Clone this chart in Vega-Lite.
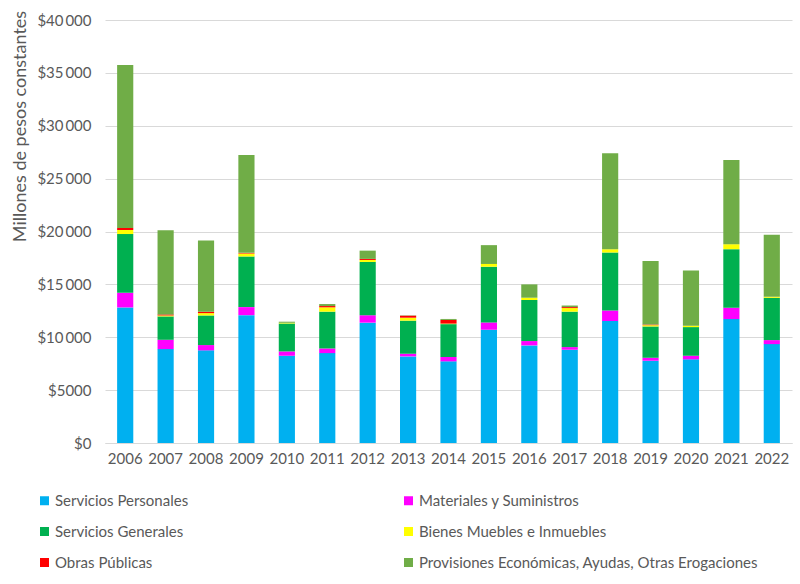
{
  "$schema": "https://vega.github.io/schema/vega-lite/v6.json",
  "width": 687,
  "height": 423,
  "autosize": {"type": "none"},
  "padding": {"left": 105, "top": 20, "right": 8, "bottom": 141},
  "background": "white",
  "config": {
    "font": "Lato",
    "view": {"stroke": null},
    "axis": {"labelColor": "#595959", "titleColor": "#595959", "labelFont": "Lato", "titleFont": "Lato"}
  },
  "data": {"values": [
    {"year":"2006","cat":"Servicios Personales","value":12820},
    {"year":"2006","cat":"Materiales y Suministros","value":1380},
    {"year":"2006","cat":"Servicios Generales","value":5560},
    {"year":"2006","cat":"Bienes Muebles e Inmuebles","value":380},
    {"year":"2006","cat":"Obras Públicas","value":190},
    {"year":"2006","cat":"Provisiones Económicas, Ayudas, Otras Erogaciones","value":15420},
    {"year":"2007","cat":"Servicios Personales","value":8880},
    {"year":"2007","cat":"Materiales y Suministros","value":880},
    {"year":"2007","cat":"Servicios Generales","value":2210},
    {"year":"2007","cat":"Bienes Muebles e Inmuebles","value":90},
    {"year":"2007","cat":"Obras Públicas","value":100},
    {"year":"2007","cat":"Provisiones Económicas, Ayudas, Otras Erogaciones","value":7950},
    {"year":"2008","cat":"Servicios Personales","value":8760},
    {"year":"2008","cat":"Materiales y Suministros","value":500},
    {"year":"2008","cat":"Servicios Generales","value":2800},
    {"year":"2008","cat":"Bienes Muebles e Inmuebles","value":220},
    {"year":"2008","cat":"Obras Públicas","value":130},
    {"year":"2008","cat":"Provisiones Económicas, Ayudas, Otras Erogaciones","value":6750},
    {"year":"2009","cat":"Servicios Personales","value":12090},
    {"year":"2009","cat":"Materiales y Suministros","value":760},
    {"year":"2009","cat":"Servicios Generales","value":4790},
    {"year":"2009","cat":"Bienes Muebles e Inmuebles","value":280},
    {"year":"2009","cat":"Obras Públicas","value":60},
    {"year":"2009","cat":"Provisiones Económicas, Ayudas, Otras Erogaciones","value":9250},
    {"year":"2010","cat":"Servicios Personales","value":8250},
    {"year":"2010","cat":"Materiales y Suministros","value":410},
    {"year":"2010","cat":"Servicios Generales","value":2640},
    {"year":"2010","cat":"Bienes Muebles e Inmuebles","value":70},
    {"year":"2010","cat":"Obras Públicas","value":0},
    {"year":"2010","cat":"Provisiones Económicas, Ayudas, Otras Erogaciones","value":100},
    {"year":"2011","cat":"Servicios Personales","value":8500},
    {"year":"2011","cat":"Materiales y Suministros","value":440},
    {"year":"2011","cat":"Servicios Generales","value":3480},
    {"year":"2011","cat":"Bienes Muebles e Inmuebles","value":410},
    {"year":"2011","cat":"Obras Públicas","value":120},
    {"year":"2011","cat":"Provisiones Económicas, Ayudas, Otras Erogaciones","value":190},
    {"year":"2012","cat":"Servicios Personales","value":11380},
    {"year":"2012","cat":"Materiales y Suministros","value":700},
    {"year":"2012","cat":"Servicios Generales","value":5040},
    {"year":"2012","cat":"Bienes Muebles e Inmuebles","value":190},
    {"year":"2012","cat":"Obras Públicas","value":100},
    {"year":"2012","cat":"Provisiones Económicas, Ayudas, Otras Erogaciones","value":780},
    {"year":"2013","cat":"Servicios Personales","value":8190},
    {"year":"2013","cat":"Materiales y Suministros","value":250},
    {"year":"2013","cat":"Servicios Generales","value":3130},
    {"year":"2013","cat":"Bienes Muebles e Inmuebles","value":280},
    {"year":"2013","cat":"Obras Públicas","value":190},
    {"year":"2013","cat":"Provisiones Económicas, Ayudas, Otras Erogaciones","value":30},
    {"year":"2014","cat":"Servicios Personales","value":7720},
    {"year":"2014","cat":"Materiales y Suministros","value":410},
    {"year":"2014","cat":"Servicios Generales","value":3110},
    {"year":"2014","cat":"Bienes Muebles e Inmuebles","value":50},
    {"year":"2014","cat":"Obras Públicas","value":350},
    {"year":"2014","cat":"Provisiones Económicas, Ayudas, Otras Erogaciones","value":90},
    {"year":"2015","cat":"Servicios Personales","value":10710},
    {"year":"2015","cat":"Materiales y Suministros","value":690},
    {"year":"2015","cat":"Servicios Generales","value":5270},
    {"year":"2015","cat":"Bienes Muebles e Inmuebles","value":260},
    {"year":"2015","cat":"Obras Públicas","value":0},
    {"year":"2015","cat":"Provisiones Económicas, Ayudas, Otras Erogaciones","value":1780},
    {"year":"2016","cat":"Servicios Personales","value":9230},
    {"year":"2016","cat":"Materiales y Suministros","value":410},
    {"year":"2016","cat":"Servicios Generales","value":3880},
    {"year":"2016","cat":"Bienes Muebles e Inmuebles","value":220},
    {"year":"2016","cat":"Obras Públicas","value":0},
    {"year":"2016","cat":"Provisiones Económicas, Ayudas, Otras Erogaciones","value":1260},
    {"year":"2017","cat":"Servicios Personales","value":8820},
    {"year":"2017","cat":"Materiales y Suministros","value":250},
    {"year":"2017","cat":"Servicios Generales","value":3350},
    {"year":"2017","cat":"Bienes Muebles e Inmuebles","value":340},
    {"year":"2017","cat":"Obras Públicas","value":90},
    {"year":"2017","cat":"Provisiones Económicas, Ayudas, Otras Erogaciones","value":150},
    {"year":"2018","cat":"Servicios Personales","value":11530},
    {"year":"2018","cat":"Materiales y Suministros","value":1010},
    {"year":"2018","cat":"Servicios Generales","value":5480},
    {"year":"2018","cat":"Bienes Muebles e Inmuebles","value":310},
    {"year":"2018","cat":"Obras Públicas","value":0},
    {"year":"2018","cat":"Provisiones Económicas, Ayudas, Otras Erogaciones","value":9070},
    {"year":"2019","cat":"Servicios Personales","value":7780},
    {"year":"2019","cat":"Materiales y Suministros","value":280},
    {"year":"2019","cat":"Servicios Generales","value":2960},
    {"year":"2019","cat":"Bienes Muebles e Inmuebles","value":120},
    {"year":"2019","cat":"Obras Públicas","value":60},
    {"year":"2019","cat":"Provisiones Económicas, Ayudas, Otras Erogaciones","value":6000},
    {"year":"2020","cat":"Servicios Personales","value":7910},
    {"year":"2020","cat":"Materiales y Suministros","value":340},
    {"year":"2020","cat":"Servicios Generales","value":2710},
    {"year":"2020","cat":"Bienes Muebles e Inmuebles","value":130},
    {"year":"2020","cat":"Obras Públicas","value":0},
    {"year":"2020","cat":"Provisiones Económicas, Ayudas, Otras Erogaciones","value":5220},
    {"year":"2021","cat":"Servicios Personales","value":11720},
    {"year":"2021","cat":"Materiales y Suministros","value":1070},
    {"year":"2021","cat":"Servicios Generales","value":5540},
    {"year":"2021","cat":"Bienes Muebles e Inmuebles","value":470},
    {"year":"2021","cat":"Obras Públicas","value":0},
    {"year":"2021","cat":"Provisiones Económicas, Ayudas, Otras Erogaciones","value":7960},
    {"year":"2022","cat":"Servicios Personales","value":9350},
    {"year":"2022","cat":"Materiales y Suministros","value":380},
    {"year":"2022","cat":"Servicios Generales","value":4000},
    {"year":"2022","cat":"Bienes Muebles e Inmuebles","value":100},
    {"year":"2022","cat":"Obras Públicas","value":0},
    {"year":"2022","cat":"Provisiones Económicas, Ayudas, Otras Erogaciones","value":5860}
  ]},
  "transform": [
    {"calculate": "indexof(['Servicios Personales', 'Materiales y Suministros', 'Servicios Generales', 'Bienes Muebles e Inmuebles', 'Obras Públicas', 'Provisiones Económicas, Ayudas, Otras Erogaciones'], datum.cat)", "as": "stackRank"}
  ],
  "mark": {"type": "bar"},
  "encoding": {
    "x": {
      "field": "year", "type": "ordinal",
      "scale": {"paddingInner": 0.6, "paddingOuter": 0.3},
      "axis": {"title": null, "labelAngle": 0, "labelFontSize": 15, "labelPadding": 8, "ticks": false, "domainColor": "#D9D9D9", "domainWidth": 1}
    },
    "y": {
      "field": "value", "type": "quantitative", "aggregate": "sum", "stack": "zero",
      "scale": {"domain": [0, 40000], "nice": false},
      "axis": {
        "title": "Millones de pesos constantes",
        "titleFontSize": 18, "titleFontWeight": "normal",
        "titleAnchor": "middle", "titleX": -80, "titleY": 106, "titleBaseline": "alphabetic",
        "values": [0, 5000, 10000, 15000, 20000, 25000, 30000, 35000, 40000],
        "labelExpr": "datum.value >= 10000 ? '$' + floor(datum.value / 1000) + '\u2009000' : '$' + datum.value",
        "labelFontSize": 15, "labelPadding": 14, "ticks": false, "domain": false,
        "gridColor": "#D9D9D9", "gridWidth": 1
      }
    },
    "color": {
      "field": "cat", "type": "nominal",
      "sort": ["Servicios Personales", "Materiales y Suministros", "Servicios Generales", "Bienes Muebles e Inmuebles", "Obras Públicas", "Provisiones Económicas, Ayudas, Otras Erogaciones"],
      "scale": {
        "range": ["#00B0F0", "#FF00FF", "#00B050", "#FFFF00", "#FF0000", "#70AD47"]
      },
      "legend": {
        "title": null, "orient": "none", "legendX": -68, "legendY": 473,
        "direction": "horizontal",
        "columns": 2, "columnPadding": 212, "rowPadding": 15,
        "symbolType": "square", "symbolSize": 81, "symbolStrokeWidth": 0,
        "labelFontSize": 15, "labelColor": "#595959", "labelFont": "Lato", "labelOffset": 3, "labelLimit": 400
      }
    },
    "order": {"field": "stackRank", "type": "quantitative", "sort": "ascending"}
  }
}
